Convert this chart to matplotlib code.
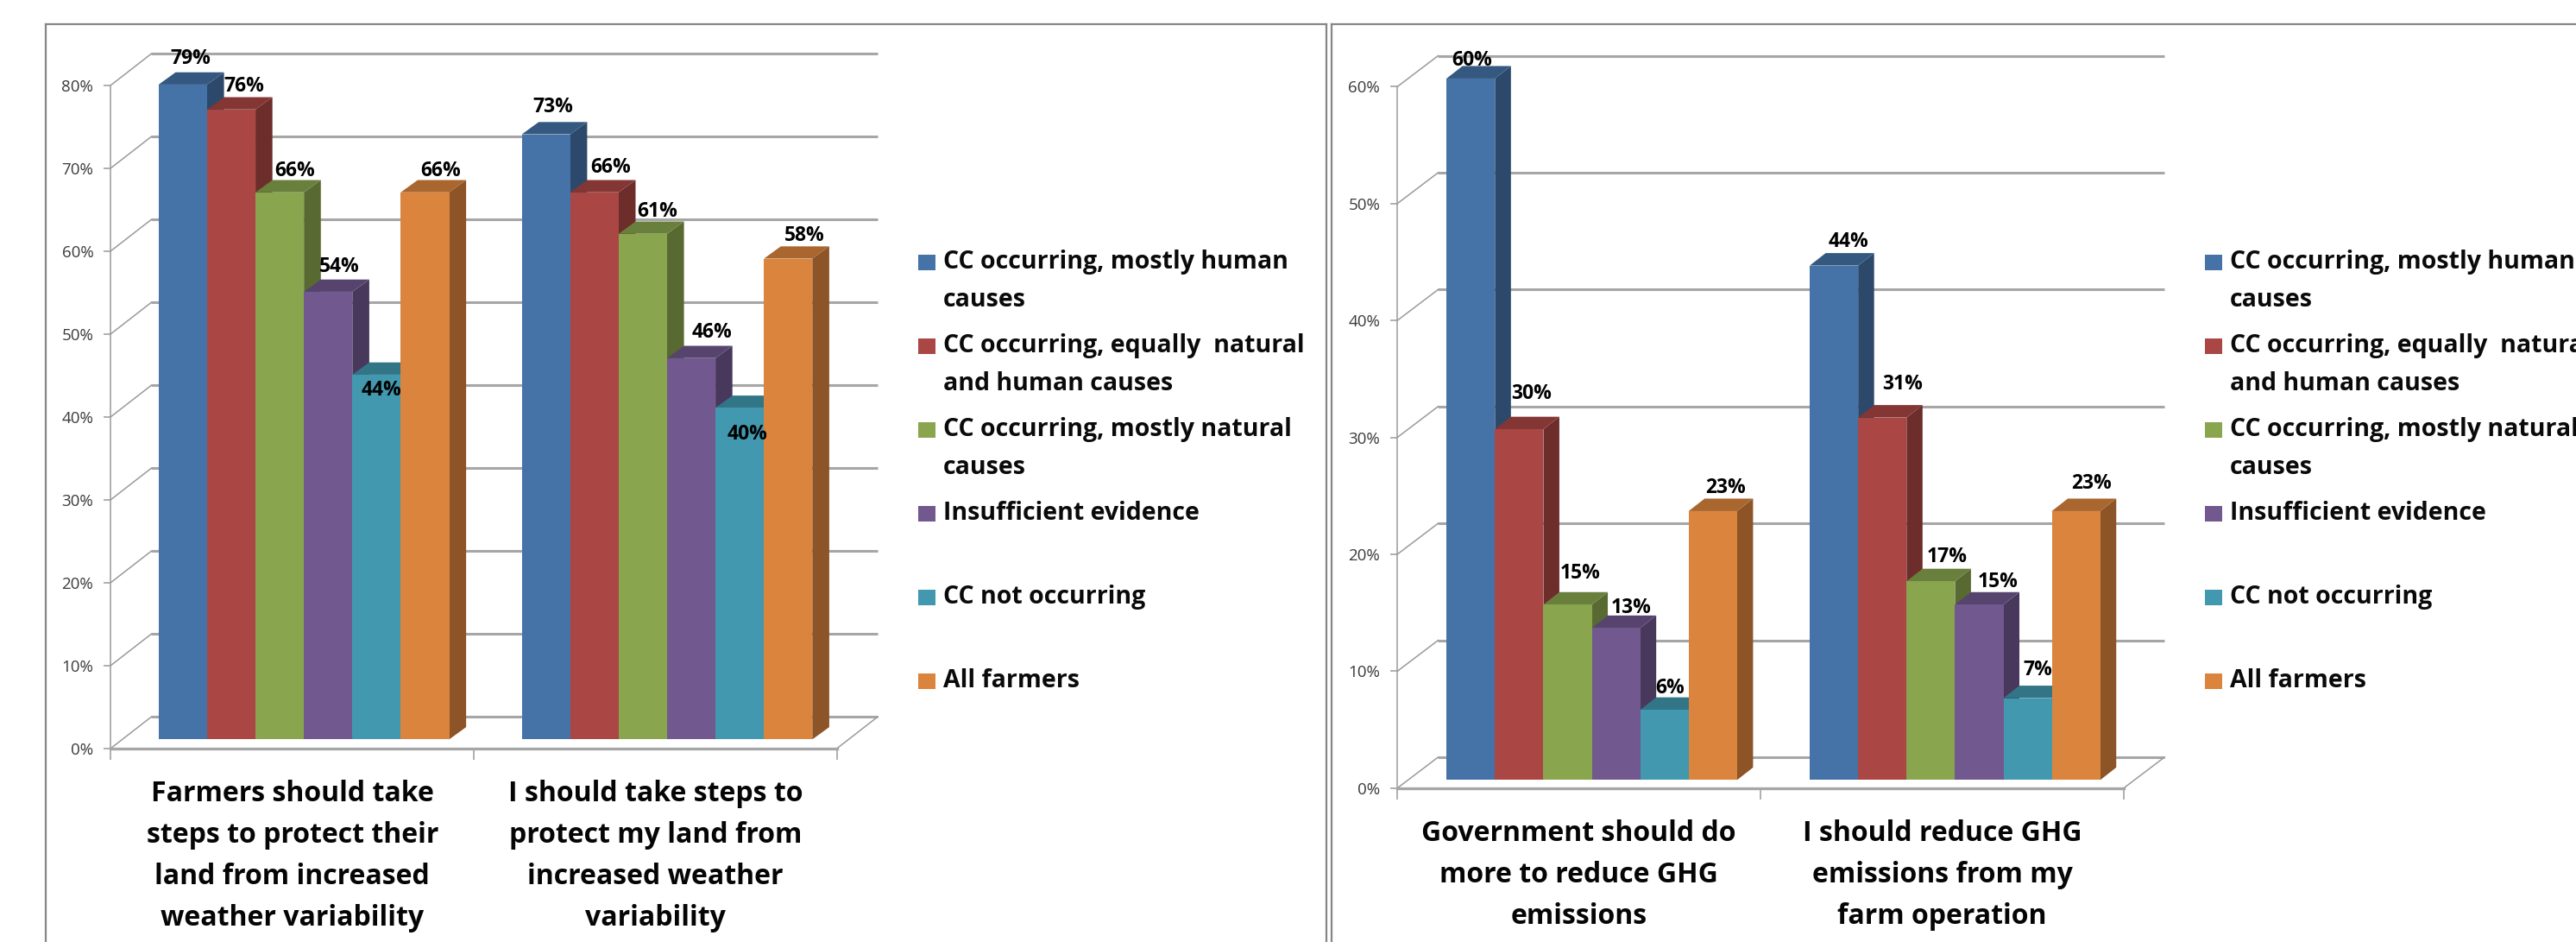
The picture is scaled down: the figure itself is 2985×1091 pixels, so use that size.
import matplotlib
matplotlib.use("Agg")
from matplotlib import pyplot as plt
from matplotlib.patches import Rectangle

W, H = 2985, 1091

plt.rcParams['font.family'] = ['Open Sans', 'DejaVu Sans']

series_names = [
    "CC occurring, mostly human\ncauses",
    "CC occurring, equally  natural\nand human causes",
    "CC occurring, mostly natural\ncauses",
    "Insufficient evidence",
    "CC not occurring",
    "All farmers",
]
series_colors = ['#4572A7', '#AA4643', '#89A54E', '#71588F', '#4198AF', '#DB843D']

adapt_categories = [
    "Farmers should take\nsteps to protect their\nland from increased\nweather variability",
    "I should take steps to\nprotect my land from\nincreased weather\nvariability",
]
adapt_values = [
    [79, 73],
    [76, 66],
    [66, 61],
    [54, 46],
    [44, 40],
    [66, 58],
]

mitigate_categories = [
    "Government should do\nmore to reduce GHG\nemissions",
    "I should reduce GHG\nemissions from my\nfarm operation",
]
mitigate_values = [
    [60, 44],
    [30, 31],
    [15, 17],
    [13, 15],
    [6, 7],
    [23, 23],
]

# label nudges in pixels from the middle of the bar top, series by series
adapt_nudge = [
    [(8.5, 30), (8.5, 32)],
    [(15, 27), (19, 29)],
    [(17.5, 25), (17, 26)],
    [(13, 29), (23.5, 30)],
    [(6, -18), (9, -31)],
    [(18, 25), (19, 27)],
]
mitigate_nudge = [
    [(1.6, 21), (16.5, 28)],
    [(14.5, 41), (23, 39)],
    [(15, 36), (19, 28)],
    [(17.6, 23), (22, 26)],
    [(6, 25), (12, 33)],
    [(14.3, 27), (18.3, 32)],
]

BAR_W = 0.8 / 6
GRID = '#a6a6a6'
AXIS = '#9a9a9a'
FRAME = '#868686'


def shade(color, f):
    r, g, b = matplotlib.colors.to_rgb(color)
    return (r * f, g * f, b * f)


def px_axes(fig, x0, y0, x1, y1):
    return fig.add_axes([x0 / W, 1 - y1 / H, (x1 - x0) / W, (y1 - y0) / H])


def draw_frame(fig, x0, y0, x1, y1):
    # the panel box runs past the edge of the figure
    ax = px_axes(fig, x0, y0, x1, y1)
    ax.set_xticks([])
    ax.set_yticks([])
    for s in ax.spines.values():
        s.set_color(FRAME)
        s.set_linewidth(1.6)
    return ax


def draw_legend(fig, x):
    for i, (name, color) in enumerate(zip(series_names, series_colors)):
        y = 303 + i * 97
        fig.add_artist(Rectangle((x / W, 1 - (y + 9.5) / H), 20 / W, 18 / H,
                                 transform=fig.transFigure, color=color, lw=0))
        fig.text((x + 29) / W, 1 - (y - 14) / H, name, fontsize=20.5, fontweight='bold',
                 color='#0a0a0a', va='top', ha='left', linespacing=1.69)


def draw_panel(ax, ymax, values, nudge, categories, floor_dx, floor_dy, bar_dx, bar_dy,
               side_dx, top_dy):
    ax.set_xlim(0, 2)
    ax.set_ylim(0, ymax)
    ax.patch.set_visible(False)

    ticks = list(range(0, ymax + 1, 10))
    ax.set_yticks(ticks, [f"{t}%" for t in ticks])
    ax.set_xticks([0, 1, 2], [])
    ax.set_xticks([0.5, 1.5], categories, minor=True)
    ax.tick_params(axis='y', length=5.5, width=1.1, color=AXIS, pad=9,
                   labelsize=13.5, labelcolor='#3a3a3a')
    ax.tick_params(axis='x', which='major', length=9, width=1.1, color=AXIS)
    ax.tick_params(axis='x', which='minor', length=0, pad=26, labelsize=23)
    for lab in ax.get_xticklabels(minor=True):
        lab.set_fontweight('bold')
        lab.set_linespacing(1.6)
        lab.set_color('#050505')

    for s in ('top', 'right'):
        ax.spines[s].set_visible(False)
    ax.spines['left'].set_color(AXIS)
    ax.spines['left'].set_linewidth(1.1)
    ax.spines['bottom'].set_color(GRID)
    ax.spines['bottom'].set_linewidth(2.4)

    # back wall and the slanted side wall
    for t in ticks:
        ax.plot([floor_dx, 2 + floor_dx], [t + floor_dy, t + floor_dy], color=GRID, lw=2.2,
                clip_on=False, zorder=1, solid_capstyle='butt')
        ax.plot([0, floor_dx], [t, t + floor_dy], color=AXIS, lw=1.1, clip_on=False, zorder=1)
    ax.plot([2, 2 + floor_dx], [0, floor_dy], color=AXIS, lw=1.1, clip_on=False, zorder=1)

    for k, (vals, color) in enumerate(zip(values, series_colors)):
        xs = [g + 0.5 + (k - 2.5) * BAR_W + bar_dx for g in range(len(vals))]
        z = 3 + k
        for x, v in zip(xs, vals):
            left, right = x - BAR_W / 2, x + BAR_W / 2
            top = v + bar_dy
            ax.fill([right, right + side_dx, right + side_dx, right],
                    [bar_dy, bar_dy + top_dy, top + top_dy, top],
                    color=shade(color, 0.64), lw=0, clip_on=False, zorder=z)
            ax.fill([left, left + side_dx, right + side_dx, right],
                    [top, top + top_dy, top + top_dy, top],
                    color=shade(color, 0.77), lw=0, clip_on=False, zorder=z)
        ax.bar(xs, vals, BAR_W, bottom=bar_dy, color=color, lw=0, clip_on=False, zorder=z)

    for k, vals in enumerate(values):
        for g, v in enumerate(vals):
            x = g + 0.5 + (k - 2.5) * BAR_W + bar_dx
            dx, dy = nudge[k][g]
            ax.annotate(f"{v}%", (x, v + bar_dy), xytext=(dx * 0.72, dy * 0.72),
                        textcoords='offset points', ha='center', va='center',
                        fontsize=16.5, fontweight='bold', color='black', zorder=20,
                        annotation_clip=False)


fig = plt.figure(figsize=(W / 100, H / 100), dpi=100, facecolor='white')

draw_frame(fig, 52.6, 28, 1537, 1140)
draw_frame(fig, 1543.4, 28, 3050, 1140)

left_ax = px_axes(fig, 128.4, 98.7, 970, 866.7)
draw_panel(left_ax, 80, adapt_values, adapt_nudge, adapt_categories,
           0.1117, 3.8, 0.0318, 1.08, 0.0466, 1.48)
right_ax = px_axes(fig, 1619.3, 100.3, 2461, 912.7)
draw_panel(right_ax, 60, mitigate_values, mitigate_nudge, mitigate_categories,
           0.1121, 2.64, 0.0352, 0.69, 0.044, 1.07)

draw_legend(fig, 1064)
draw_legend(fig, 2555)

fig.savefig("out.png", dpi=100)
